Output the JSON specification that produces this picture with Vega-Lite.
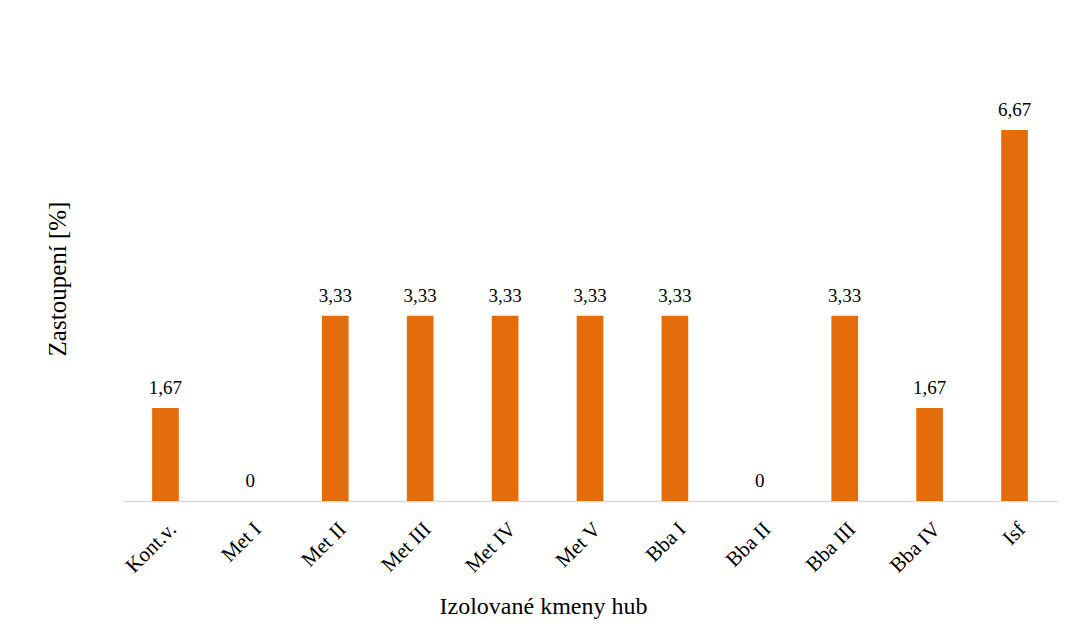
{
  "$schema": "https://vega.github.io/schema/vega-lite/v6.json",
  "width": 934,
  "height": 445,
  "autosize": {"type": "none"},
  "padding": {"left": 123, "top": 56, "right": 13, "bottom": 139},
  "background": "white",
  "config": {
    "view": {"stroke": null},
    "font": "Liberation Serif",
    "locale": {"number": {"decimal": ",", "thousands": " ", "grouping": [3], "currency": ["", " Kč"]}}
  },
  "data": {
    "values": [
      {"kmen": "Kont.v.", "zastoupeni": 1.67},
      {"kmen": "Met I", "zastoupeni": 0},
      {"kmen": "Met II", "zastoupeni": 3.33},
      {"kmen": "Met III", "zastoupeni": 3.33},
      {"kmen": "Met IV", "zastoupeni": 3.33},
      {"kmen": "Met V", "zastoupeni": 3.33},
      {"kmen": "Bba I", "zastoupeni": 3.33},
      {"kmen": "Bba II", "zastoupeni": 0},
      {"kmen": "Bba III", "zastoupeni": 3.33},
      {"kmen": "Bba IV", "zastoupeni": 1.67},
      {"kmen": "Isf", "zastoupeni": 6.67}
    ]
  },
  "encoding": {
    "x": {
      "field": "kmen",
      "type": "nominal",
      "sort": null,
      "scale": {"paddingInner": 0.686, "paddingOuter": 0.343},
      "axis": {
        "title": "Izolované kmeny hub",
        "titleFont": "Liberation Serif",
        "titleFontSize": 24,
        "titleFontWeight": "normal",
        "titleColor": "#000000",
        "titleX": 420,
        "titleY": 112,
        "titleAlign": "center",
        "titleBaseline": "alphabetic",
        "labelAngle": -45,
        "labelFont": "Liberation Serif",
        "labelFontSize": 21,
        "labelColor": "#000000",
        "labelPadding": 17,
        "ticks": false,
        "domainColor": "#d9d9d9",
        "domainWidth": 1.5
      }
    },
    "y": {
      "field": "zastoupeni",
      "type": "quantitative",
      "scale": {"domain": [0, 8], "nice": false},
      "axis": {
        "title": "Zastoupení [%]",
        "titleFont": "Liberation Serif",
        "titleFontSize": 25,
        "titleFontWeight": "normal",
        "titleColor": "#000000",
        "titlePadding": 53,
        "labels": false,
        "ticks": false,
        "domain": false,
        "grid": false
      }
    }
  },
  "layer": [
    {"mark": {"type": "bar", "color": "#E46C0A"}},
    {
      "mark": {"type": "text", "baseline": "alphabetic", "dy": -14, "fontSize": 19, "font": "Liberation Serif", "color": "#000000"},
      "encoding": {"text": {"field": "zastoupeni", "type": "quantitative", "format": ".2~f"}}
    }
  ]
}
